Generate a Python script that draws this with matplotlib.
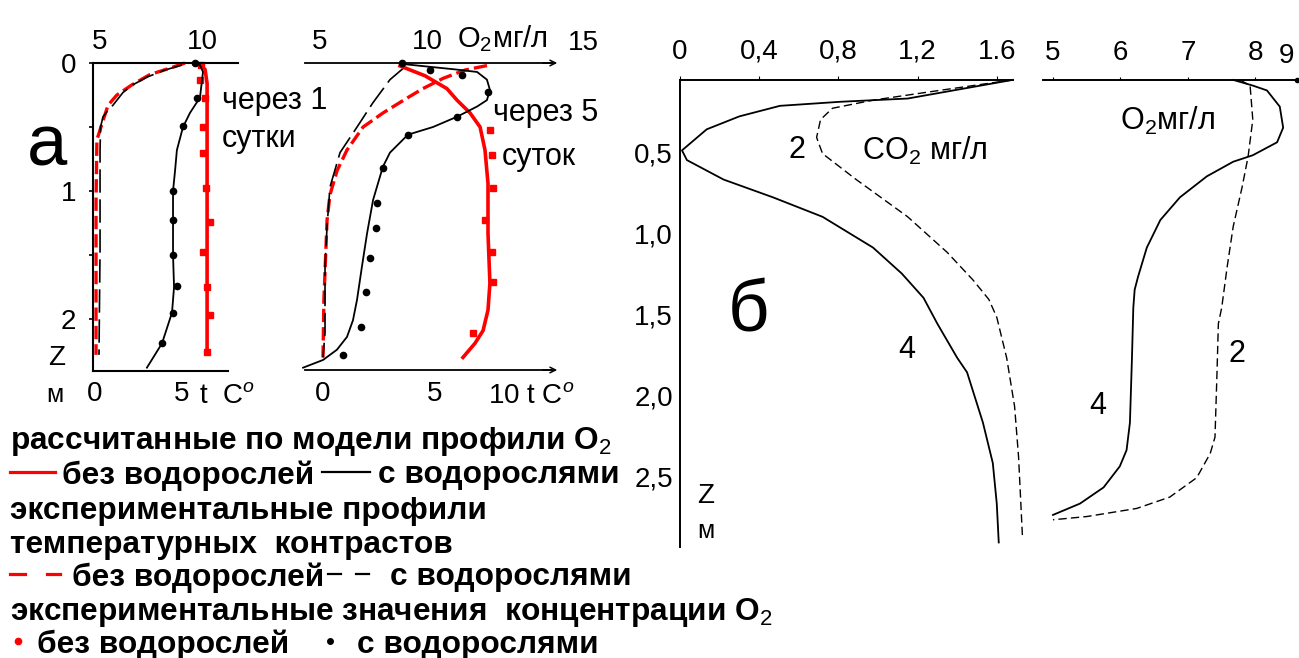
import matplotlib.pyplot as plt

plt.rcParams['font.family'] = ['Liberation Sans', 'DejaVu Sans']
plt.rcParams['mathtext.fontset'] = 'custom'
plt.rcParams['mathtext.rm'] = 'Liberation Sans'
plt.rcParams['mathtext.it'] = 'Liberation Sans:italic'
plt.rcParams['mathtext.bf'] = 'Liberation Sans:bold'

W, H = 1299, 658
RED = '#ff0000'

# ---------- panel a, after 1 day (depth in m) ----------
a1_z_model_algae = [0.016, 0.07, 0.27, 0.39, 0.5, 0.68, 0.84, 1.0, 1.5, 1.75, 1.95, 2.19, 2.38]
a1_o2_model_algae = [9.90, 10.05, 9.90, 9.41, 9.07, 8.77, 8.68, 8.58, 8.58, 8.63, 8.53, 8.04, 7.30]
a1_z_model_clean = [0.0, 0.05, 0.16, 0.45, 1.46, 2.27]
a1_o2_model_clean = [9.75, 10.15, 10.25, 10.25, 10.25, 10.25]
a1_z_obs_clean = [0.016, 0.13, 0.27, 0.5, 0.70, 0.98, 1.24, 1.48, 1.75, 1.97, 2.26]
a1_o2_obs_clean = [9.95, 9.90, 10.15, 10.05, 10.05, 10.2, 10.39, 10.05, 10.25, 10.39, 10.25]
a1_z_obs_algae = [0.0, 0.27, 0.49, 1.0, 1.23, 1.5, 1.74, 1.95, 2.19]
a1_o2_obs_algae = [9.66, 9.75, 9.07, 8.58, 8.58, 8.58, 8.77, 8.58, 8.04]
a1_z_temp_algae = [0.016, 0.055, 0.11, 0.17, 0.23, 0.33, 0.37, 0.42, 0.5, 0.68, 1.46, 1.85, 2.28]
a1_t_temp_algae = [5.0, 4.02, 2.99, 2.18, 1.61, 1.03, 0.75, 0.46, 0.32, 0.29, 0.29, 0.26, 0.23]
a1_z_temp_clean = [0.0, 0.04, 0.09, 0.17, 0.25, 0.33, 0.45, 0.6, 1.07, 2.28]
a1_t_temp_clean = [5.17, 4.31, 3.16, 2.13, 1.26, 0.75, 0.46, 0.11, 0.06, 0.06]

# ---------- panel a, after 5 days ----------
a2_z_model_algae = [0.008, 0.03, 0.05, 0.07, 0.13, 0.21, 0.29, 0.34, 0.42, 0.50, 0.56, 0.70,
                    0.81, 1.07, 1.33, 1.59, 1.85, 2.01, 2.14, 2.24, 2.32, 2.38]
a2_o2_model_algae = [8.88, 10.14, 11.31, 12.34, 12.80, 12.94, 12.80, 12.34, 11.40, 10.28, 9.11, 8.27,
                     7.94, 7.48, 7.20, 6.96, 6.73, 6.54, 6.26, 5.79, 5.14, 4.21]
a2_z_model_clean = [0.023, 0.10, 0.20, 0.29, 0.39, 0.50, 0.68, 0.94, 1.33, 1.72, 1.93, 2.09, 2.19, 2.30]
a2_o2_model_clean = [8.74, 9.91, 10.93, 11.40, 12.01, 12.48, 12.71, 12.85, 12.85, 12.94, 12.85, 12.62, 12.24, 11.68]
a2_z_obs_algae = [0.0, 0.055, 0.094, 0.23, 0.42, 0.56, 0.82, 1.09, 1.29, 1.52, 1.79, 2.06, 2.28]
a2_o2_obs_algae = [8.83, 10.14, 11.64, 12.85, 11.40, 9.11, 7.94, 7.66, 7.62, 7.34, 7.15, 6.92, 6.07]
a2_z_obs_clean = [0.52, 0.72, 0.98, 1.23, 1.48, 1.71, 2.11]
a2_o2_obs_clean = [12.94, 13.04, 13.08, 12.71, 13.04, 13.08, 12.15]
a2_z_temp_algae = [0.03, 0.13, 0.31, 0.50, 0.70, 0.97, 1.28, 1.59, 2.11, 2.30]
a2_t_temp_algae = [3.66, 2.99, 2.23, 1.52, 0.76, 0.31, 0.18, 0.09, 0.09, 0.0]
a2_z_temp_clean = [0.02, 0.055, 0.12, 0.20, 0.27, 0.39, 0.50, 0.68, 0.84, 1.03, 1.23, 1.85, 2.30]
a2_t_temp_clean = [7.32, 6.34, 5.36, 4.46, 3.79, 2.68, 1.79, 1.07, 0.63, 0.31, 0.18, 0.04, 0.0]

# ---------- panel б: CO2 and O2 profiles, curves 2 and 4 ----------
b_z_co2_4 = [0.055, 0.17, 0.19, 0.215, 0.28, 0.36, 0.49, 0.55, 0.67, 0.78, 0.90, 1.09, 1.25, 1.40,
             1.56, 1.77, 1.86, 2.17, 2.42, 2.67, 2.91]
b_co2_4 = [1.68, 1.15, 0.81, 0.505, 0.30, 0.135, 0.01, 0.035, 0.22, 0.47, 0.72, 0.975, 1.12, 1.23,
           1.30, 1.40, 1.45, 1.53, 1.58, 1.60, 1.61]
b_z_co2_2 = [0.055, 0.12, 0.18, 0.23, 0.30, 0.41, 0.51, 0.67, 0.90, 1.12, 1.29, 1.41, 1.52, 1.77,
             2.07, 2.38, 2.63, 2.88]
b_co2_2 = [1.68, 1.31, 0.975, 0.77, 0.71, 0.69, 0.72, 0.89, 1.15, 1.35, 1.48, 1.56, 1.60, 1.65,
           1.69, 1.71, 1.72, 1.73]
b_z_o2_4 = [0.055, 0.09, 0.12, 0.22, 0.35, 0.44, 0.52, 0.56, 0.65, 0.78, 0.92, 1.09, 1.27, 1.35,
            1.46, 1.77, 2.17, 2.34, 2.44, 2.57, 2.67, 2.74]
b_o2_4 = [7.67, 7.96, 8.17, 8.36, 8.41, 8.32, 7.96, 7.67, 7.28, 6.88, 6.59, 6.39, 6.26, 6.21,
          6.19, 6.17, 6.14, 6.09, 5.99, 5.75, 5.40, 5.0]
b_z_o2_2 = [0.055, 0.09, 0.30, 0.53, 0.72, 0.96, 1.21, 1.46, 1.56, 1.86, 2.26, 2.36, 2.51, 2.63,
            2.70, 2.75, 2.77]
b_o2_2 = [7.77, 7.92, 7.96, 7.89, 7.80, 7.67, 7.58, 7.50, 7.45, 7.43, 7.40, 7.33, 7.13, 6.73,
          6.24, 5.50, 5.0]

TICK_FS = 20

fig = plt.figure(figsize=(W / 100, H / 100), dpi=100)


def px_axes(x0, y0, x1, y1):
    ax = fig.add_axes([x0 / W, 1 - y1 / H, (x1 - x0) / W, (y1 - y0) / H])
    ax.set_facecolor('none')
    return ax


def o2_twin(ax, lim, ticks):
    # oxygen scale sits on top of the temperature axes
    tw = ax.twiny()
    tw.set_facecolor('none')
    tw.set_xlim(*lim)
    tw.set_xticks(ticks, [str(t) for t in ticks])
    tw.tick_params(axis='x', length=0, pad=6, labelsize=TICK_FS)
    for s in tw.spines.values():
        s.set_visible(False)
    return tw


def red_dashed(ax, x, z):
    ax.plot(x, z, color=RED, lw=2.4, dashes=(4, 1.5), clip_on=False)


def black_dashed(ax, x, z):
    ax.plot(x, z, color='black', lw=1.2, dashes=(14, 4), clip_on=False)


# ----- panel a, 1 day: temperature on the bottom -----
ax1 = px_axes(93, 63, 228, 371)
ax1.set_ylim(2.406, 0)
ax1.set_xlim(-0.115, 7.644)
ax1.set_xticks([0, 5], ['0', '5'])
ax1.tick_params(axis='x', length=0, pad=7, labelsize=TICK_FS)
ax1.set_yticks([0, 0.5, 1, 1.5, 2], ['0', '', '1', '', '2'])
ax1.tick_params(axis='y', length=3, width=1.2, pad=9, labelsize=TICK_FS)
for s in ['top', 'right']:
    ax1.spines[s].set_visible(False)
for s in ['left', 'bottom']:
    ax1.spines[s].set_linewidth(1.5)
red_dashed(ax1, a1_t_temp_clean, a1_z_temp_clean)
black_dashed(ax1, a1_t_temp_algae, a1_z_temp_algae)

ax1o = o2_twin(ax1, (4.657, 11.275), [5, 10])
ax1o.plot(a1_o2_model_clean, a1_z_model_clean, color=RED, lw=2.6, clip_on=False)
ax1o.plot(a1_o2_obs_clean, a1_z_obs_clean, 's', color=RED, ms=4, clip_on=False)
ax1o.plot(a1_o2_model_algae, a1_z_model_algae, color='black', lw=1.3, clip_on=False)
ax1o.plot(a1_o2_obs_algae, a1_z_obs_algae, 'o', color='black', ms=4.5, clip_on=False)

# ----- panel a, 5 days -----
ax2 = px_axes(295, 63, 558, 371)
ax2.set_ylim(2.406, 0)
ax2.set_xlim(-1.25, 10.491)
ax2.set_xticks([0, 5], ['0', '5'])
ax2.tick_params(axis='x', length=0, pad=7, labelsize=TICK_FS)
ax2.set_yticks([])
for s in ax2.spines.values():
    s.set_visible(False)
red_dashed(ax2, a2_t_temp_clean, a2_z_temp_clean)
black_dashed(ax2, a2_t_temp_algae, a2_z_temp_algae)

ax2o = o2_twin(ax2, (3.832, 16.121), [5, 10])
ax2o.plot(a2_o2_model_clean, a2_z_model_clean, color=RED, lw=2.6, clip_on=False)
ax2o.plot(a2_o2_obs_clean, a2_z_obs_clean, 's', color=RED, ms=4, clip_on=False)
ax2o.plot(a2_o2_model_algae, a2_z_model_algae, color='black', lw=1.3, clip_on=False)
ax2o.plot(a2_o2_obs_algae, a2_z_obs_algae, 'o', color='black', ms=4.5, clip_on=False)

# ----- panel б, CO2 -----
axb = px_axes(680, 80, 1013, 547)
axb.set_xlim(0, 1.682)
axb.set_ylim(2.938, 0.0556)
axb.xaxis.tick_top()
axb.set_xticks([0, 0.4, 0.8, 1.2, 1.6], ['0', '0,4', '0,8', '1,2', '1.6'])
axb.tick_params(axis='x', length=3, pad=8, labelsize=TICK_FS)
axb.set_yticks([0.5, 1.0, 1.5, 2.0, 2.5], ['0,5', '1,0', '1,5', '2,0', '2,5'])
axb.tick_params(axis='y', length=0, pad=5, labelsize=TICK_FS)
for s in ['bottom', 'right']:
    axb.spines[s].set_visible(False)
for s in ['left', 'top']:
    axb.spines[s].set_linewidth(1.4)
axb.plot(b_co2_4, b_z_co2_4, color='black', lw=1.3, clip_on=False)
axb.plot(b_co2_2, b_z_co2_2, color='black', lw=1.0, dashes=(6, 3), clip_on=False)

# ----- panel б, O2 -----
axc = px_axes(1043, 80, 1297, 547)
axc.set_xlim(4.852, 8.615)
axc.set_ylim(2.938, 0.0556)
axc.xaxis.tick_top()
axc.set_xticks([5, 6, 7, 8], ['5', '6', '7', '8'])
axc.tick_params(axis='x', length=2, pad=8, labelsize=TICK_FS)
axc.set_yticks([])
for s in ['bottom', 'right', 'left']:
    axc.spines[s].set_visible(False)
axc.spines['top'].set_linewidth(1.4)
axc.plot(b_o2_4, b_z_o2_4, color='black', lw=1.3, clip_on=False)
axc.plot(b_o2_2, b_z_o2_2, color='black', lw=1.0, dashes=(6, 3), clip_on=False)

# ----- overlay in pixel units for frame pieces, labels and legend -----
ov = fig.add_axes([0, 0, 1, 1])
ov.set_xlim(0, W)
ov.set_ylim(H, 0)
ov.axis('off')

ov.plot([93, 238], [63, 63], color='black', lw=1.5)
ov.plot([305, 552], [63, 63], color='black', lw=1.3)
ov.plot([305, 552], [370, 370], color='black', lw=1.3)
for y in (63, 370):
    ov.annotate('', xy=(560, y), xytext=(540, y),
                arrowprops=dict(arrowstyle='->', lw=1.1, color='black'))
ov.plot([1297], [80], 'o', color='black', ms=3)


def txt(x, y, s, size=TICK_FS, ha='left', **kw):
    ov.text(x, y, s, fontsize=size, ha=ha, va='center_baseline', **kw)


txt(47, 140, 'а', 52, ha='center')
txt(222, 97, 'через 1', 22)
txt(222, 135, 'сутки', 22)
txt(57, 355, 'Z', ha='center')
txt(55, 392, 'м', 18, ha='center')
txt(199, 393, 't  C$^{o}$')
txt(457, 35, 'O$_2$мг/л', 21)
txt(583, 40, '15', ha='center')
txt(493, 110, 'через 5', 22)
txt(502, 153, 'суток', 22)
txt(488, 393, '10 t C$^{o}$')

txt(748, 305, 'б', 52, ha='center')
txt(797, 147, '2', 22, ha='center')
txt(862, 147, 'CO$_2$ мг/л', 22)
txt(907, 347, '4', 22, ha='center')
txt(706, 493, 'Z', ha='center')
txt(706, 528, 'м', 18, ha='center')
txt(1120, 117, 'O$_2$мг/л', 22)
txt(1237, 350, '2', 22, ha='center')
txt(1098, 402, '4', 22, ha='center')
txt(1287, 53, '9', ha='center')

# legend block
LEG_FS = 22.8
LEG_W = 'bold'
txt(10, 437, 'рассчитанные по модели профили O$_2$', LEG_FS, fontweight=LEG_W)
ov.plot([10, 55], [472, 472], color=RED, lw=2.3)
txt(62, 472, 'без водорослей', LEG_FS, fontweight=LEG_W)
ov.plot([322, 370], [472, 472], color='black', lw=1.6)
txt(378, 472, 'с водорослями', LEG_FS, fontweight=LEG_W)
txt(10, 507, 'экспериментальные профили', LEG_FS, fontweight=LEG_W)
txt(10, 541, 'температурных  контрастов', LEG_FS, fontweight=LEG_W)
ov.plot([10, 25], [574, 574], color=RED, lw=2.3)
ov.plot([47, 60], [574, 574], color=RED, lw=2.3)
txt(72, 574, 'без водорослей', LEG_FS, fontweight=LEG_W)
ov.plot([328, 341], [574, 574], color='black', lw=1.6)
ov.plot([356, 369], [574, 574], color='black', lw=1.6)
txt(390, 574, 'с водорослями', LEG_FS, fontweight=LEG_W)
txt(10, 608, 'экспериментальные значения  концентрации O$_2$', LEG_FS, fontweight=LEG_W)
ov.plot([18], [641], 'o', color=RED, ms=4.5)
txt(37, 641, 'без водорослей', LEG_FS, fontweight=LEG_W)
ov.plot([330], [641], 'o', color='black', ms=4)
txt(357, 641, 'с водорослями', LEG_FS, fontweight=LEG_W)

fig.savefig('out.png', dpi=100)
